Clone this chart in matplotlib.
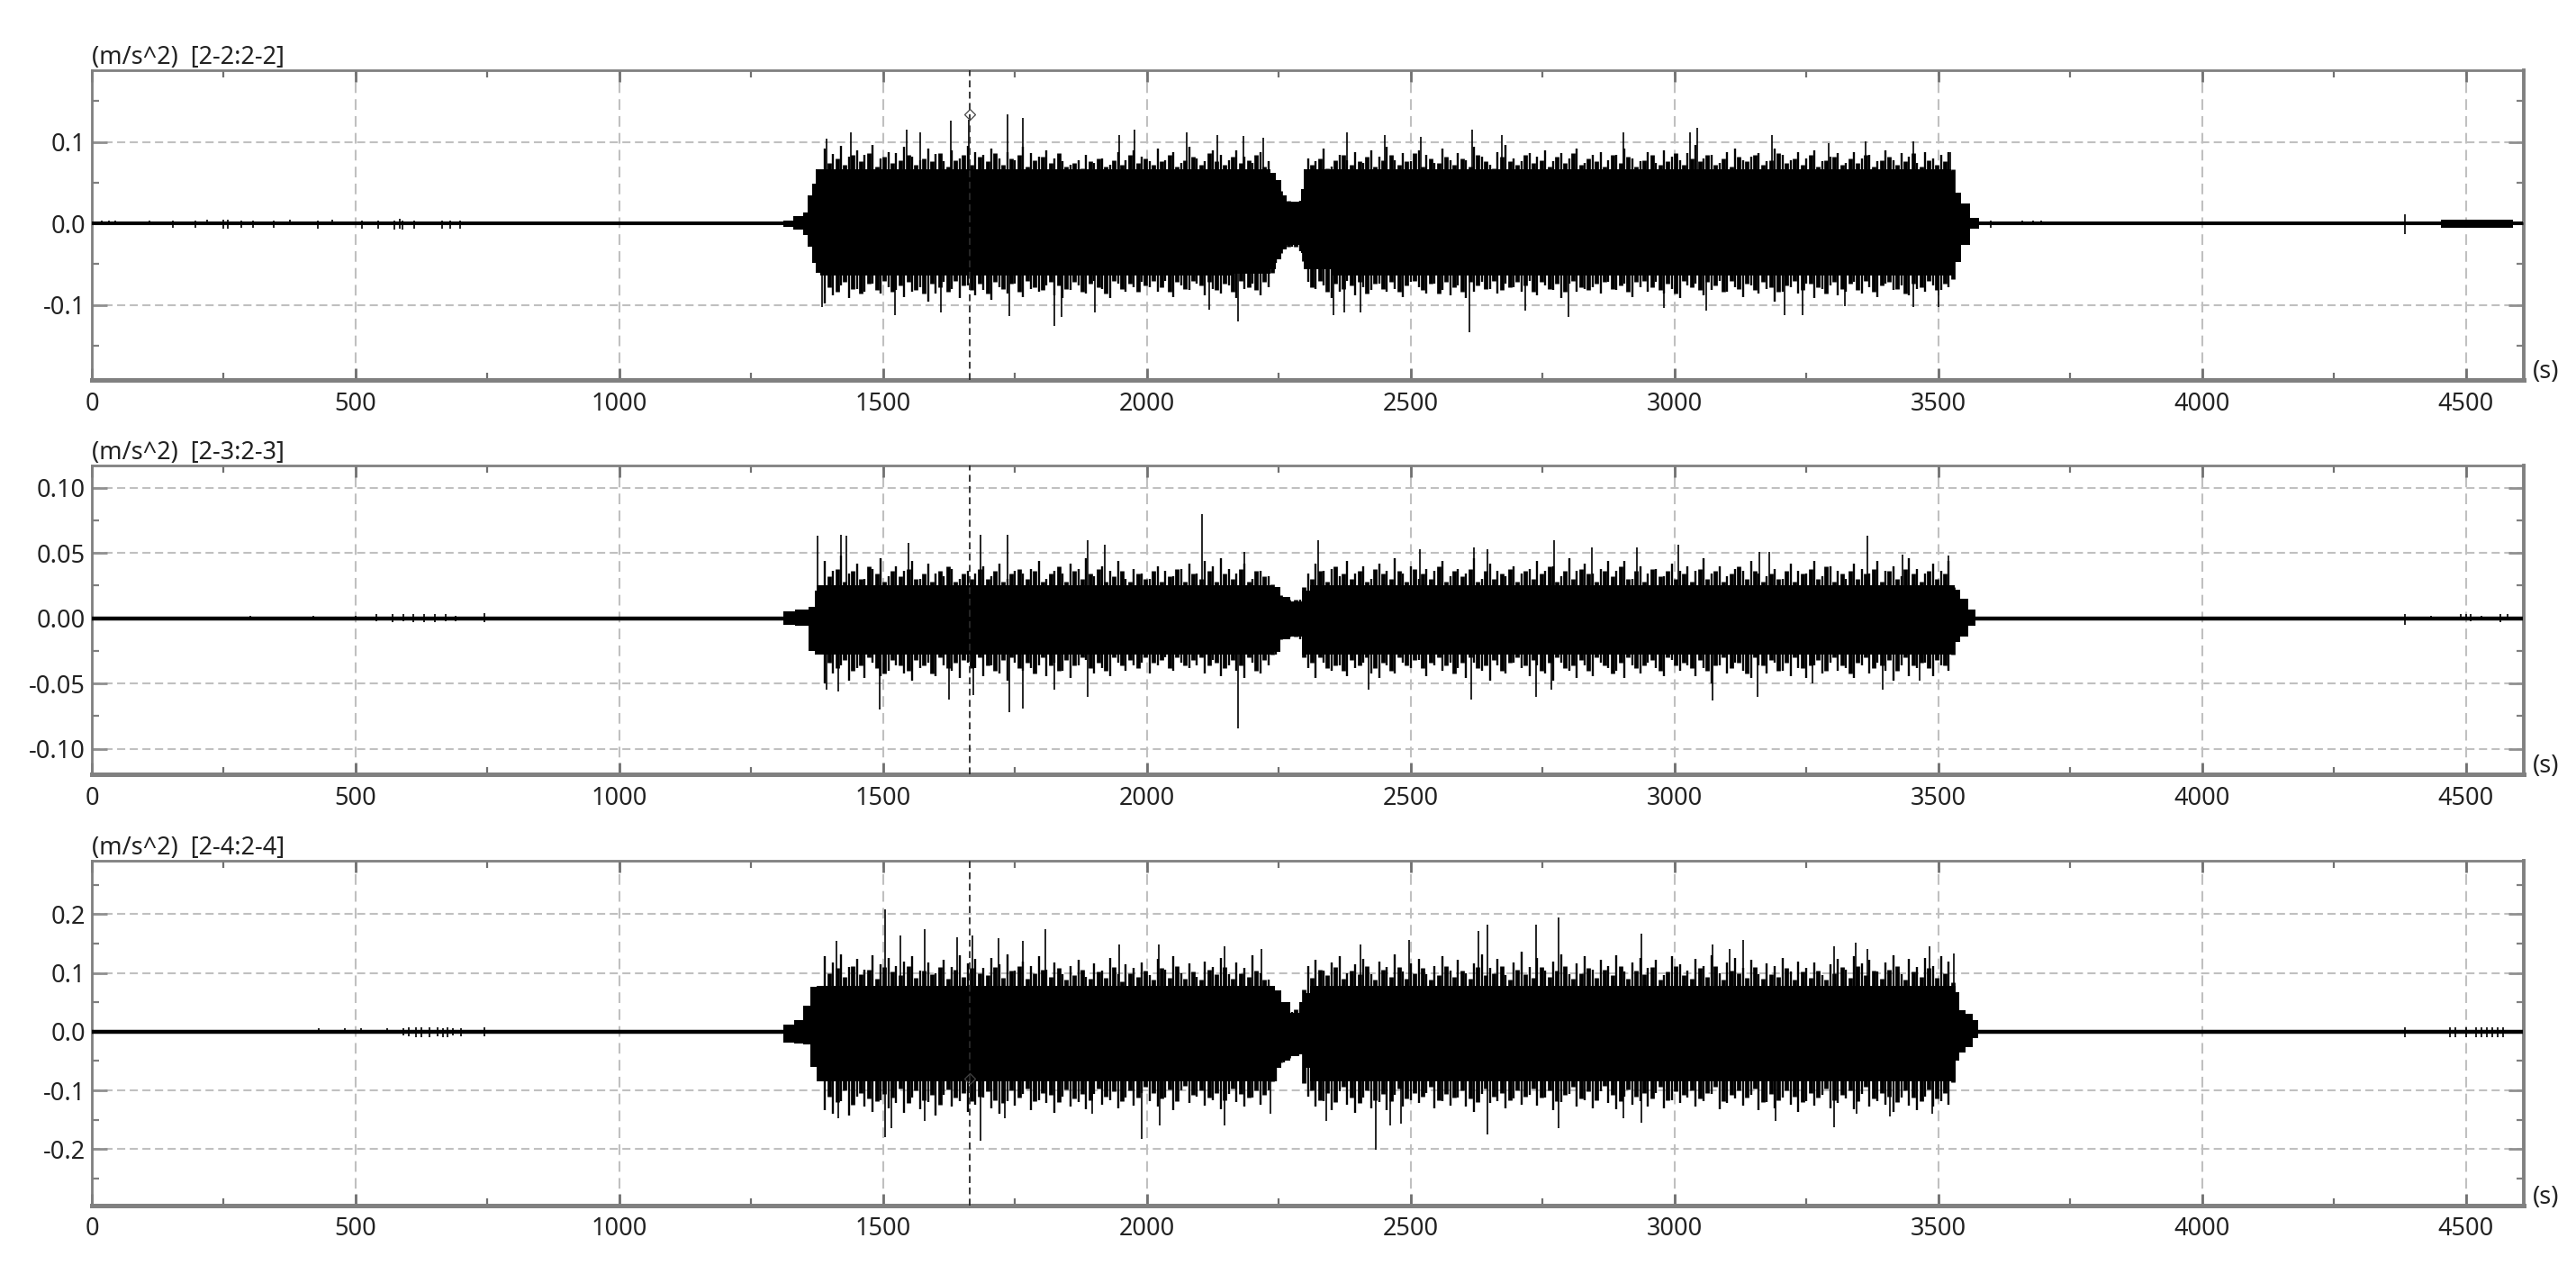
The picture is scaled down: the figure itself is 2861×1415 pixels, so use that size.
import numpy as np
import matplotlib
matplotlib.use("Agg")
import matplotlib.pyplot as plt
from matplotlib.ticker import FixedLocator, NullFormatter

plt.rcParams['font.family'] = ['Noto Sans', 'DejaVu Sans']
plt.rcParams['lines.scale_dashes'] = False

W, H, DPI = 2861, 1415, 100
CURSOR_T = 1664

# all amplitudes below are in thousandths of m/s^2
comb_t = np.arange(1390, 3521, 15)
fill_t = comb_t + 7.5

# ---------- channel 2-2 ----------
titles = ["(m/s^2)  [2-2:2-2]", "(m/s^2)  [2-3:2-3]", "(m/s^2)  [2-4:2-4]"]
p1_body_t = [0, 1300, 1320, 1340, 1355, 1360, 1370, 1375, 1385, 1500, 1700, 1900, 2100, 2230, 2240, 2250, 2260, 2270,
             2290, 2295, 2300, 2400, 2700, 3000, 3300, 3523, 3526, 3536, 3551, 3571, 3585, 4450, 4456, 4588, 4592, 4608]
p1_body_up = [2, 2, 4, 9, 14, 35, 49, 66, 66, 66, 66, 66, 66, 66, 62, 53, 35, 27,
              27, 42, 66, 66, 66, 66, 66, 66, 64, 38, 24, 7, 2, 2, 5, 5, 2, 2]
p1_body_lo = [2, 2, 4, 7, 14, 28, 48, 60, 64, 64, 64, 64, 64, 62, 56, 44, 32, 26,
              26, 36, 56, 64, 64, 64, 64, 64, 64, 47, 26, 6, 2, 2, 5, 5, 2, 2]
p1_comb_up = [92, 85, 95, 82, 90, 84, 96, 80, 88, 86,
              94, 82, 78, 92, 85, 76, 90, 80, 95, 88,
              84, 92, 80, 88, 78, 94, 86, 82, 90, 80,
              76, 72, 78, 84, 74, 80, 72, 88, 78, 90,
              82, 76, 92, 78, 88, 74, 94, 80, 76, 90,
              84, 78, 90, 82, 74, 88, 76, 45, 30, 26,
              28, 80, 76, 92, 70, 84, 78, 88, 74, 90,
              82, 94, 78, 86, 76, 90, 84, 74, 92, 78,
              86, 78, 94, 82, 72, 88, 96, 80, 76, 86,
              82, 90, 76, 86, 80, 92, 74, 84, 88, 78,
              84, 92, 80, 76, 88, 74, 90, 82, 78, 86,
              96, 80, 84, 74, 88, 92, 78, 82, 86, 76,
              92, 84, 78, 88, 80, 90, 76, 82, 86, 74,
              88, 80, 84, 76, 90, 78, 86, 82, 74, 88,
              80, 84, 88]
p1_comb_lo = [98, 88, 76, 92, 80, 84, 74, 86, 78, 82,
              90, 84, 78, 96, 86, 72, 80, 92, 76, 88,
              82, 94, 78, 86, 74, 90, 80, 84, 76, 88,
              92, 82, 76, 86, 70, 80, 92, 74, 84, 78,
              72, 78, 84, 70, 90, 76, 82, 74, 88, 80,
              86, 76, 92, 80, 74, 88, 78, 48, 30, 28,
              34, 72, 80, 76, 92, 84, 70, 88, 78, 82,
              74, 84, 80, 90, 72, 78, 86, 74, 82, 88,
              76, 92, 84, 72, 80, 86, 74, 78, 84, 70,
              88, 76, 82, 92, 74, 84, 80, 78, 86, 72,
              82, 74, 90, 78, 84, 72, 86, 80, 92, 76,
              74, 88, 82, 70, 84, 78, 90, 76, 86, 80,
              96, 84, 78, 86, 74, 92, 80, 76, 88, 84,
              72, 86, 78, 90, 74, 82, 76, 88, 80, 84,
              76, 82, 78]
p1_fill_up = [74, 80, 72, 84, 76, 86, 70, 82, 74, 78,
              84, 72, 80, 76, 86, 70, 78, 84, 72, 82,
              76, 86, 72, 80, 84, 70, 78, 82, 74, 86,
              70, 74, 68, 76, 80, 70, 78, 72, 84, 74,
              80, 72, 76, 84, 70, 78, 82, 72, 86, 76,
              72, 82, 74, 78, 84, 70, 60, 40, 28, 26,
              42, 72, 80, 68, 78, 84, 72, 76, 82, 70,
              78, 84, 72, 76, 86, 70, 80, 74, 82, 72,
              80, 70, 84, 76, 68, 82, 76, 72, 84, 74,
              78, 70, 82, 74, 86, 72, 80, 76, 70, 84,
              74, 82, 70, 78, 84, 72, 76, 86, 72, 80,
              76, 84, 72, 80, 70, 82, 76, 84, 72, 78,
              86, 74, 80, 72, 84, 70, 78, 82, 72, 80,
              74, 84, 70, 78, 82, 72, 76, 86, 70, 78,
              72, 76, 66]
p1_fill_lo = [78, 84, 72, 80, 86, 74, 82, 70, 84, 76,
              72, 82, 86, 74, 78, 84, 70, 76, 82, 74,
              86, 72, 80, 74, 84, 70, 78, 82, 72, 76,
              80, 72, 84, 74, 78, 86, 70, 80, 74, 84,
              76, 70, 78, 84, 72, 80, 70, 76, 72, 82,
              74, 84, 70, 78, 82, 72, 60, 36, 28, 28,
              46, 78, 70, 84, 74, 80, 76, 72, 86, 74,
              80, 72, 84, 76, 70, 82, 74, 86, 72, 78,
              84, 72, 76, 80, 70, 82, 78, 72, 76, 84,
              72, 80, 74, 84, 70, 78, 82, 74, 72, 80,
              76, 84, 72, 70, 78, 82, 74, 86, 70, 78,
              82, 72, 76, 84, 70, 80, 74, 82, 72, 78,
              84, 76, 70, 82, 74, 78, 86, 72, 80, 74,
              82, 70, 84, 76, 72, 80, 86, 74, 78, 70,
              82, 74, 68]
p1_spike_up_t = [1392, 1439, 1545, 1570, 1629, 1663, 1736, 1765, 1947, 1976, 2075, 2134, 2183, 2221, 2379, 2451, 2519,
                 2617, 2672, 2904, 3030, 3043, 3184, 3293, 3362, 3452, 3523]
p1_spike_up_v = [104, 112, 115, 112, 126, 127, 134, 129, 109, 115, 112, 109, 107, 105, 112, 109, 106,
                 115, 109, 112, 112, 117, 109, 98, 101, 101, 88]
p1_spike_lo_t = [1385, 1522, 1609, 1740, 1825, 1839, 1901, 2118, 2172, 2354, 2374, 2405, 2612, 2717, 2799, 2980, 3060,
                 3209, 3243, 3323, 3452, 3501]
p1_spike_lo_v = [103, 112, 109, 114, 126, 115, 109, 106, 120, 112, 109, 109, 133, 107, 115, 104, 107,
                 112, 112, 101, 103, 103]
p1_quiet_t = [18, 32, 45, 110, 154, 196, 218, 249, 258, 283, 306, 344, 375, 428, 455, 512, 542, 573, 584, 588, 611,
              664, 679, 698, 3600, 3660, 3680, 3695, 4384]
p1_quiet_up = [4, 4, 4, 3, 3, 3, 5, 5, 5, 3, 3, 3, 5, 3, 5, 3, 3, 4, 6, 4, 3,
               3, 3, 3, 4, 3, 3, 3, 11]
p1_quiet_lo = [2, 2, 2, 2, 5, 5, 2, 6, 6, 5, 5, 5, 2, 6, 2, 6, 6, 7, 6, 7, 6,
               6, 6, 6, 5, 2, 2, 2, 13]

# ---------- channel 2-3 ----------
p2_body_t = [0, 1300, 1320, 1347, 1369, 1372, 1376, 1385, 1500, 1800, 2100, 2235, 2245, 2261, 2283, 2305, 2315,
             2400, 2800, 3200, 3528, 3530, 3533, 3549, 3566, 3575, 4608]
p2_body_up = [1, 1, 5, 7, 9, 21, 25, 25, 25, 25, 25, 25, 24, 16, 13, 21, 25,
              25, 25, 25, 25, 25, 22, 15, 7, 1, 1]
p2_body_lo = [1, 1, 5, 6, 25, 28, 28, 28, 28, 28, 28, 28, 26, 16, 14, 28, 28,
              28, 28, 28, 28, 28, 18, 14, 6, 1, 1]
p2_comb_up = [44, 36, 48, 34, 42, 30, 38, 46, 32, 40,
              36, 44, 30, 42, 34, 32, 38, 30, 36, 34,
              40, 32, 42, 30, 36, 34, 38, 44, 30, 36,
              34, 42, 38, 46, 32, 40, 36, 44, 30, 38,
              34, 30, 40, 36, 32, 38, 42, 34, 44, 40,
              46, 38, 34, 42, 30, 36, 32, 24, 16, 13,
              14, 34, 42, 36, 38, 32, 44, 34, 40, 30,
              42, 36, 46, 34, 40, 30, 38, 36, 44, 32,
              38, 34, 46, 30, 42, 36, 32, 40, 34, 38,
              44, 36, 40, 32, 46, 36, 42, 34, 38, 44,
              36, 44, 30, 40, 34, 38, 32, 42, 36, 40,
              36, 46, 34, 40, 32, 38, 36, 44, 34, 32,
              38, 30, 42, 36, 34, 44, 32, 40, 36, 30,
              42, 38, 34, 44, 36, 40, 32, 46, 38, 34,
              42, 36, 44]
p2_comb_lo = [50, 42, 36, 48, 38, 46, 34, 44, 40, 36,
              42, 48, 38, 34, 44, 36, 40, 46, 34, 38,
              44, 36, 42, 48, 34, 40, 38, 36, 44, 34,
              40, 46, 36, 32, 42, 38, 44, 34, 40, 36,
              34, 42, 36, 30, 40, 34, 38, 36, 42, 32,
              44, 36, 40, 46, 34, 42, 36, 28, 14, 14,
              16, 38, 46, 34, 40, 36, 44, 38, 34, 42,
              46, 36, 42, 34, 38, 32, 44, 36, 40, 34,
              38, 46, 34, 40, 48, 36, 42, 34, 38, 44,
              36, 42, 48, 34, 40, 46, 36, 44, 34, 38,
              40, 46, 36, 42, 34, 38, 44, 32, 40, 36,
              44, 38, 50, 36, 42, 34, 40, 46, 36, 42,
              34, 40, 44, 38, 46, 36, 42, 34, 40, 38,
              46, 36, 42, 34, 40, 48, 36, 44, 38, 34,
              44, 36, 40]
p2_fill_up = [32, 38, 28, 36, 30, 40, 34, 28, 36, 32,
              38, 30, 34, 28, 36, 40, 28, 34, 30, 38,
              30, 36, 28, 34, 38, 30, 36, 28, 34, 40,
              28, 36, 30, 34, 38, 28, 32, 36, 28, 34,
              30, 36, 28, 32, 38, 28, 34, 30, 36, 28,
              34, 30, 38, 28, 36, 32, 26, 18, 14, 14,
              24, 30, 36, 28, 40, 34, 30, 36, 28, 38,
              34, 30, 36, 28, 38, 34, 30, 40, 28, 36,
              32, 38, 28, 36, 30, 34, 38, 28, 36, 30,
              34, 40, 28, 36, 30, 38, 34, 28, 36, 32,
              40, 30, 36, 28, 38, 32, 36, 30, 34, 28,
              38, 30, 36, 28, 34, 40, 30, 36, 28, 34,
              30, 36, 28, 34, 38, 30, 40, 28, 34, 36,
              30, 34, 38, 28, 36, 30, 38, 34, 28, 36,
              30, 34, 24]
p2_fill_lo = [34, 38, 32, 40, 36, 30, 38, 42, 32, 36,
              40, 32, 36, 42, 30, 38, 34, 32, 38, 30,
              36, 40, 32, 30, 38, 34, 42, 30, 36, 40,
              32, 36, 30, 38, 34, 40, 30, 36, 32, 38,
              30, 34, 32, 38, 30, 36, 32, 30, 36, 34,
              38, 32, 36, 30, 40, 32, 28, 16, 14, 14,
              30, 34, 30, 38, 36, 40, 32, 36, 30, 38,
              34, 40, 30, 36, 32, 38, 34, 30, 36, 42,
              34, 30, 38, 36, 32, 40, 34, 30, 36, 32,
              40, 34, 30, 38, 36, 32, 40, 30, 36, 42,
              34, 30, 38, 36, 32, 40, 30, 36, 34, 38,
              32, 40, 36, 30, 38, 34, 42, 30, 36, 32,
              40, 34, 30, 38, 36, 32, 40, 30, 36, 42,
              34, 30, 38, 36, 32, 40, 30, 36, 34, 38,
              32, 36, 28]
p2_spike_up_t = [1376, 1420, 1431, 1548, 1684, 1736, 1888, 1920, 2104, 2185, 2324, 2517, 2620, 2645, 2772, 2843, 2928,
                 3008, 3161, 3179, 3366, 3432, 3519]
p2_spike_up_v = [63, 64, 63, 58, 64, 64, 60, 56, 80, 51, 60, 53, 54, 53, 60, 54, 54,
                 56, 51, 51, 63, 49, 48]
p2_spike_lo_t = [1393, 1415, 1494, 1625, 1671, 1739, 1765, 1825, 1888, 2172, 2421, 2615, 2738, 2767,
                 3073, 3157, 3261, 3395, 3465]
p2_spike_lo_v = [55, 56, 70, 62, 59, 72, 69, 55, 60, 84, 55, 62, 60, 55,
                 63, 60, 50, 55, 48]
p2_quiet_t = [300, 420, 500, 540, 570, 590, 610, 630, 650, 670, 690, 745, 4384, 4435, 4490, 4500, 4510, 4530, 4565, 4580]
p2_quiet_up = [2, 2, 2, 3, 3, 3, 3, 3, 3, 3, 2, 4, 3, 2, 3, 3, 3, 2, 3, 3]
p2_quiet_lo = [1, 1, 1, 2, 3, 2, 3, 3, 3, 2, 2, 3, 5, 1, 1, 1, 2, 1, 3, 1]

# ---------- channel 2-4 ----------
p3_body_t = [0, 1300, 1320, 1342, 1355, 1369, 1380, 1391, 1500, 1800, 2100, 2235, 2250, 2261, 2283, 2294, 2305, 2315,
             2400, 2800, 3200, 3530, 3536, 3544, 3560, 3571, 3580, 4608]
p3_body_up = [2, 2, 12, 19, 45, 76, 78, 78, 78, 78, 78, 78, 71, 50, 32, 50, 65, 78,
              78, 78, 78, 78, 68, 37, 30, 19, 2, 2]
p3_body_lo = [2, 2, 19, 20, 21, 60, 84, 84, 84, 84, 84, 84, 62, 50, 42, 38, 62, 84,
              84, 84, 84, 84, 50, 35, 27, 11, 2, 2]
p3_comb_up = [128, 118, 132, 110, 124, 106, 130, 114, 126, 112,
              120, 128, 104, 118, 100, 122, 110, 130, 116, 124,
              108, 126, 114, 132, 104, 120, 112, 128, 106, 118,
              98, 112, 122, 94, 116, 104, 126, 98, 114, 108,
              118, 96, 124, 106, 128, 100, 116, 94, 120, 110,
              126, 98, 118, 108, 130, 100, 88, 70, 48, 34,
              40, 112, 122, 104, 118, 128, 100, 114, 124, 98,
              120, 110, 132, 102, 116, 124, 98, 112, 128, 104,
              122, 100, 116, 132, 108, 124, 96, 118, 136, 110,
              126, 104, 120, 132, 98, 116, 128, 106, 122, 112,
              130, 102, 118, 126, 108, 122, 96, 128, 114, 104,
              124, 112, 130, 100, 118, 126, 108, 122, 98, 116,
              112, 126, 102, 120, 108, 118, 96, 114, 124, 106,
              128, 116, 122, 102, 118, 130, 98, 124, 110, 126,
              112, 128, 120]
p3_comb_lo = [134, 140, 118, 142, 110, 128, 136, 116, 130, 122,
              138, 112, 132, 120, 142, 108, 128, 118, 136, 124,
              112, 130, 140, 118, 126, 106, 134, 116, 122, 138,
              110, 128, 120, 132, 106, 124, 116, 130, 112, 126,
              104, 118, 128, 112, 134, 100, 122, 110, 126, 116,
              132, 106, 120, 128, 112, 124, 100, 84, 52, 42,
              38, 110, 128, 118, 134, 102, 124, 138, 112, 130,
              120, 134, 108, 128, 116, 122, 104, 130, 118, 126,
              112, 128, 136, 106, 122, 118, 130, 114, 124, 108,
              126, 112, 134, 120, 106, 128, 116, 130, 102, 122,
              132, 110, 124, 118, 128, 104, 130, 116, 122, 112,
              128, 118, 106, 132, 122, 114, 126, 108, 134, 120,
              130, 112, 124, 136, 118, 126, 108, 130, 122, 114,
              132, 106, 128, 118, 124, 136, 112, 126, 134, 110,
              128, 118, 124]
p3_fill_up = [100, 108, 94, 112, 98, 106, 90, 110, 102, 96,
              112, 92, 104, 98, 110, 90, 106, 94, 108, 100,
              96, 110, 92, 104, 112, 90, 100, 106, 94, 108,
              88, 96, 106, 90, 102, 92, 110, 86, 100, 94,
              104, 88, 108, 92, 112, 90, 102, 88, 106, 98,
              110, 90, 100, 94, 104, 88, 72, 44, 32, 38,
              72, 92, 106, 96, 110, 90, 104, 98, 112, 88,
              106, 94, 110, 90, 100, 108, 88, 96, 112, 94,
              104, 90, 110, 96, 100, 112, 88, 106, 98, 92,
              110, 94, 104, 112, 90, 100, 108, 92, 106, 96,
              112, 90, 104, 98, 110, 88, 102, 112, 96, 90,
              108, 94, 112, 88, 104, 100, 92, 110, 90, 98,
              94, 108, 88, 102, 92, 104, 88, 100, 110, 92,
              112, 96, 104, 90, 106, 112, 88, 102, 94, 108,
              92, 100, 84]
p3_fill_lo = [110, 120, 100, 124, 104, 114, 118, 106, 112, 96,
              122, 100, 116, 108, 124, 98, 112, 104, 118, 110,
              102, 116, 122, 100, 112, 96, 118, 104, 108, 120,
              98, 114, 106, 116, 96, 110, 102, 118, 100, 112,
              94, 104, 114, 98, 118, 92, 108, 100, 112, 104,
              116, 96, 106, 112, 100, 108, 84, 52, 44, 38,
              88, 100, 116, 104, 120, 94, 112, 122, 100, 116,
              106, 118, 96, 114, 104, 110, 94, 116, 106, 112,
              100, 114, 120, 96, 110, 104, 116, 100, 110, 96,
              112, 100, 118, 108, 94, 114, 102, 116, 92, 108,
              118, 98, 110, 104, 114, 94, 116, 102, 108, 100,
              114, 104, 94, 118, 108, 100, 112, 96, 120, 106,
              116, 100, 110, 120, 104, 112, 96, 116, 108, 100,
              118, 94, 114, 104, 110, 120, 100, 112, 118, 98,
              114, 104, 86]
p3_spike_up_t = [1411, 1503, 1533, 1579, 1641, 1670, 1719, 1764, 1807, 1948, 2022, 2147, 2217, 2405, 2497, 2629, 2645,
                 2738, 2781, 2938, 3073, 3104, 3131, 3302, 3344, 3366, 3484, 3530]
p3_spike_up_v = [155, 209, 164, 175, 160, 164, 159, 155, 174, 149, 149, 145, 141, 148, 156, 172, 182,
                 182, 194, 167, 148, 141, 156, 145, 151, 141, 145, 133]
p3_spike_lo_t = [1415, 1503, 1516, 1579, 1684, 1731, 1897, 1990, 2024, 2147, 2234, 2340, 2434, 2462, 2481, 2645,
                 2781, 2903, 2938, 3192, 3302, 3346, 3409, 3489]
p3_spike_lo_v = [148, 179, 164, 152, 186, 147, 140, 183, 160, 160, 140, 152, 201, 160, 156, 175,
                 164, 148, 155, 152, 163, 140, 144, 140]
p3_quiet_t = [430, 480, 510, 560, 590, 600, 615, 625, 640, 655, 665, 675, 685, 700, 745,
              4384, 4470, 4480, 4500, 4520, 4530, 4540, 4550, 4560, 4570]
p3_quiet_up = [6, 6, 6, 6, 6, 7, 7, 7, 7, 7, 6, 7, 6, 6, 7,
               7, 8, 8, 8, 8, 8, 8, 8, 8, 8]
p3_quiet_lo = [3, 3, 3, 3, 7, 8, 9, 9, 9, 8, 9, 9, 7, 8, 8,
               10, 9, 9, 9, 10, 10, 10, 10, 10, 10]

# ---------- axis description ----------
x_major = [0, 500, 1000, 1500, 2000, 2500, 3000, 3500, 4000, 4500]
x_minor = [250, 750, 1250, 1750, 2250, 2750, 3250, 3750, 4250]
x_labels = ["0", "500", "1000", "1500", "2000", "2500", "3000", "3500", "4000", "4500"]

p1_yticks = [-0.1, 0.0, 0.1]
p1_ylabels = ["-0.1", "0.0", "0.1"]
p1_yminor = [-0.15, -0.05, 0.05, 0.15]
p2_yticks = [-0.10, -0.05, 0.00, 0.05, 0.10]
p2_ylabels = ["-0.10", "-0.05", "0.00", "0.05", "0.10"]
p2_yminor = [-0.075, -0.025, 0.025, 0.075]
p3_yticks = [-0.2, -0.1, 0.0, 0.1, 0.2]
p3_ylabels = ["-0.2", "-0.1", "0.0", "0.1", "0.2"]
p3_yminor = [-0.25, -0.15, -0.05, 0.05, 0.15, 0.25]

GRID = '#c0c0c0'
SPINE = '#808080'
TEXT = '#222222'
FS = 19.5
LEFT, RIGHT = 102, 2803


def panel(top, bottom, ylim, title, yt, yl, ym, body, comb, fill, spikes, quiet, base_lw, marker_v=None):
    ax = fig.add_axes([LEFT / W, 1 - bottom / H, (RIGHT - LEFT) / W, (bottom - top) / H])
    ax.set_xlim(0, 4610)
    ax.set_ylim(*ylim)
    ax.set_axisbelow(True)
    ax.xaxis.set_major_locator(FixedLocator(x_major))
    ax.xaxis.set_minor_locator(FixedLocator(x_minor))
    ax.xaxis.set_minor_formatter(NullFormatter())
    ax.set_xticklabels(x_labels, fontsize=FS, color=TEXT)
    ax.yaxis.set_major_locator(FixedLocator(yt))
    ax.yaxis.set_minor_locator(FixedLocator(ym))
    ax.yaxis.set_minor_formatter(NullFormatter())
    ax.set_yticklabels(yl, fontsize=FS, color=TEXT)
    ax.tick_params(axis='x', which='major', direction='in', top=True, length=9.5, width=2, color='#707070', pad=9)
    ax.tick_params(axis='x', which='minor', direction='in', top=True, length=5.5, width=1.6, color='#707070')
    ax.tick_params(axis='y', which='major', direction='in', right=True, length=12, width=2, color='#909090', pad=5)
    ax.tick_params(axis='y', which='minor', direction='in', right=True, length=6, width=1.6, color='#808080')
    ax.grid(True, axis='x', which='major', color=GRID, lw=1.5, ls=(0, (8.5, 5)))
    ax.grid(True, axis='y', which='major', color=GRID, lw=1.5, ls=(0, (6.5, 3.6)))
    for s, lw in (('left', 2.0), ('top', 2.0), ('right', 2.8), ('bottom', 3.6)):
        ax.spines[s].set_color(SPINE)
        ax.spines[s].set_linewidth(lw)
    # data (stored in thousandths)
    bt, bu, bl = body
    ax.fill_between(bt, np.array(bu) / 1000, -np.array(bl) / 1000, color='black', lw=0, step='mid', zorder=3)
    fu, fl = fill
    ax.vlines(fill_t, -np.array(fl) / 1000, np.array(fu) / 1000, color='black', lw=3.4, zorder=3)
    cu, cl = comb
    ax.vlines(comb_t, -np.array(cl) / 1000, np.array(cu) / 1000, color='black', lw=1.7, zorder=3)
    sut, suv, slt, slv = spikes
    ax.vlines(sut, 0, np.array(suv) / 1000, color='black', lw=1.2, zorder=3)
    ax.vlines(slt, -np.array(slv) / 1000, 0, color='black', lw=1.2, zorder=3)
    qt, qu, ql = quiet
    ax.vlines(qt, -np.array(ql) / 1000, np.array(qu) / 1000, color='black', lw=1.2, zorder=3)
    ax.plot([0, 4608], [0, 0], color='black', lw=base_lw, solid_capstyle='butt', zorder=3)
    ax.axvline(CURSOR_T, color='#2a2a2a', lw=1.3, ls=(0, (5.5, 3.5)), zorder=4)
    if marker_v is not None:
        ax.plot([CURSOR_T], [marker_v], marker='D', ms=6, mfc='none', mec='#444444', mew=0.9, zorder=5)
    ax.text(0, 1, title, transform=ax.transAxes, ha='left', va='bottom', fontsize=FS, color=TEXT)
    fig.text((RIGHT + 10) / W, 1 - (bottom - 9) / H, "(s)", ha='left', va='center', fontsize=FS, color=TEXT)
    return ax


fig = plt.figure(figsize=(W / DPI, H / DPI), dpi=DPI, facecolor='white')
panel(78, 422, (-0.192, 0.188), titles[0], p1_yticks, p1_ylabels, p1_yminor,
      (p1_body_t, p1_body_up, p1_body_lo), (p1_comb_up, p1_comb_lo), (p1_fill_up, p1_fill_lo),
      (p1_spike_up_t, p1_spike_up_v, p1_spike_lo_t, p1_spike_lo_v),
      (p1_quiet_t, p1_quiet_up, p1_quiet_lo), 2.2, marker_v=0.134)
panel(517, 860, (-0.1195, 0.117), titles[1], p2_yticks, p2_ylabels, p2_yminor,
      (p2_body_t, p2_body_up, p2_body_lo), (p2_comb_up, p2_comb_lo), (p2_fill_up, p2_fill_lo),
      (p2_spike_up_t, p2_spike_up_v, p2_spike_lo_t, p2_spike_lo_v),
      (p2_quiet_t, p2_quiet_up, p2_quiet_lo), 3.2)
panel(956, 1339, (-0.296, 0.291), titles[2], p3_yticks, p3_ylabels, p3_yminor,
      (p3_body_t, p3_body_up, p3_body_lo), (p3_comb_up, p3_comb_lo), (p3_fill_up, p3_fill_lo),
      (p3_spike_up_t, p3_spike_up_v, p3_spike_lo_t, p3_spike_lo_v),
      (p3_quiet_t, p3_quiet_up, p3_quiet_lo), 3.2, marker_v=-0.08)

fig.savefig("out.png", dpi=DPI, facecolor='white')
